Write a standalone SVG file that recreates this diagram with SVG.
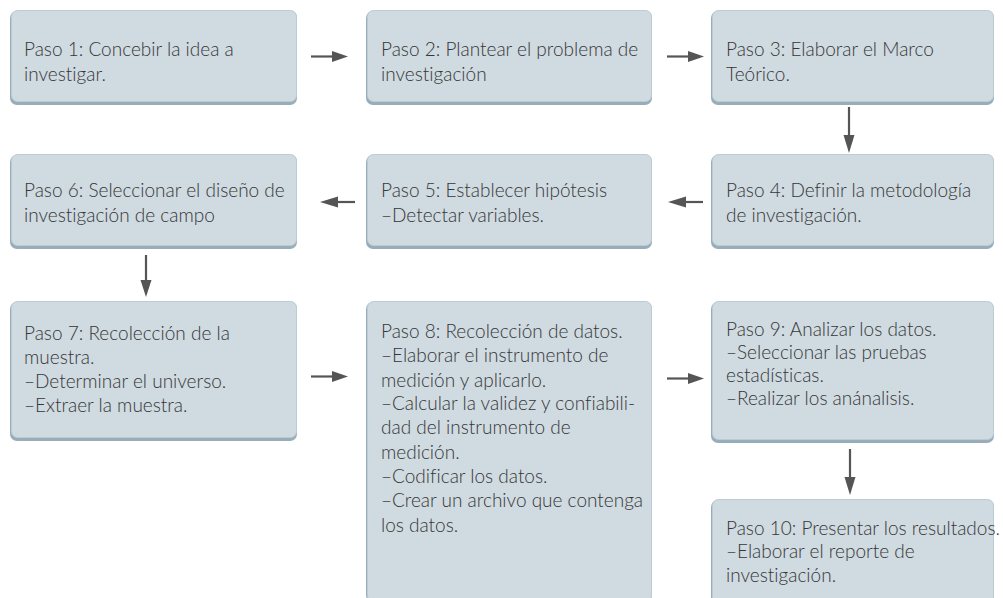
<svg xmlns="http://www.w3.org/2000/svg" width="1003" height="598" viewBox="0 0 1003 598">
<defs>
<style>
.sh{fill:#98adba}
.bx{fill:#cfdae1;stroke:#bccbd4;stroke-width:1}
.t{font-family:Lato,"Open Sans","Noto Sans",sans-serif;font-weight:300;font-size:19px;fill:#363636;font-variant-ligatures:none;font-feature-settings:"liga" 0}
.c{stroke:#555;stroke-width:2.2;fill:none}
.h{fill:#555}
</style>
</defs>
<rect width="1003" height="598" fill="#ffffff"/>
<g id="n1"><rect class="sh" x="10" y="11" width="287" height="94" rx="7"/><rect class="bx" x="11.5" y="10.5" width="285" height="91" rx="6"/>
<text class="t" x="24"><tspan x="24" y="56">Paso 1: Concebir la idea a</tspan><tspan x="24" y="81">investigar.</tspan></text></g>
<g id="n2"><rect class="sh" x="366" y="11" width="286" height="94" rx="7"/><rect class="bx" x="367.5" y="10.5" width="284" height="91" rx="6"/>
<text class="t"><tspan x="381" y="56">Paso 2: Plantear el problema de</tspan><tspan x="381" y="81">investigación</tspan></text></g>
<g id="n3"><rect class="sh" x="711" y="11" width="283" height="94" rx="7"/><rect class="bx" x="712.5" y="10.5" width="281" height="91" rx="6"/>
<text class="t"><tspan x="726" y="56">Paso 3: Elaborar el Marco</tspan><tspan x="726" y="81">Teórico.</tspan></text></g>
<g id="n4"><rect class="sh" x="711" y="155" width="283" height="94" rx="7"/><rect class="bx" x="712.5" y="154.5" width="281" height="91" rx="6"/>
<text class="t"><tspan x="726" y="197">Paso 4: Definir la metodología</tspan><tspan x="726" y="222">de investigación.</tspan></text></g>
<g id="n5"><rect class="sh" x="366" y="155" width="286" height="94" rx="7"/><rect class="bx" x="367.5" y="154.5" width="284" height="91" rx="6"/>
<text class="t"><tspan x="381" y="197">Paso 5: Establecer hipótesis</tspan><tspan x="381" y="222">–Detectar variables.</tspan></text></g>
<g id="n6"><rect class="sh" x="10" y="155" width="287" height="94" rx="7"/><rect class="bx" x="11.5" y="154.5" width="285" height="91" rx="6"/>
<text class="t"><tspan x="24" y="197">Paso 6: Seleccionar el diseño de</tspan><tspan x="24" y="222">investigación de campo</tspan></text></g>
<g id="n7"><rect class="sh" x="10" y="302" width="287" height="139" rx="7"/><rect class="bx" x="11.5" y="301.5" width="285" height="136" rx="6"/>
<text class="t"><tspan x="24" y="340">Paso 7: Recolección de la</tspan><tspan x="24" y="364">muestra.</tspan><tspan x="24" y="388">–Determinar el universo.</tspan><tspan x="24" y="412">–Extraer la muestra.</tspan></text></g>
<g id="n8"><rect class="sh" x="366" y="302" width="286" height="300" rx="7"/><rect class="bx" x="367.5" y="301.5" width="284" height="300" rx="6"/>
<text class="t"><tspan x="381" y="338">Paso 8: Recolección de datos.</tspan><tspan x="381" y="362">–Elaborar el instrumento de</tspan><tspan x="381" y="387">medición y aplicarlo.</tspan><tspan x="381" y="410">–Calcular la validez y confiabili-</tspan><tspan x="381" y="434">dad del instrumento de</tspan><tspan x="381" y="459">medición.</tspan><tspan x="381" y="483">–Codificar los datos.</tspan><tspan x="381" y="507">–Crear un archivo que contenga</tspan><tspan x="381" y="532">los datos.</tspan></text></g>
<g id="n9"><rect class="sh" x="711" y="302" width="283" height="141" rx="7"/><rect class="bx" x="712.5" y="301.5" width="281" height="138" rx="6"/>
<text class="t"><tspan x="726" y="336">Paso 9: Analizar los datos.</tspan><tspan x="726" y="359">–Seleccionar las pruebas</tspan><tspan x="726" y="382">estadísticas.</tspan><tspan x="726" y="405">–Realizar los anánalisis.</tspan></text></g>
<g id="n10"><rect class="sh" x="711" y="500" width="283" height="110" rx="7"/><rect class="bx" x="712.5" y="499.5" width="281" height="110" rx="6"/>
<text class="t"><tspan x="726" y="535">Paso 10: Presentar los resultados.</tspan><tspan x="726" y="558">–Elaborar el reporte de</tspan><tspan x="726" y="582">investigación.</tspan></text></g>
<g id="connectors">
<line class="c" x1="311" y1="56.5" x2="334" y2="56.5"/><polygon class="h" points="332,51 348,56.5 332,62"/>
<line class="c" x1="667" y1="56.5" x2="690" y2="56.5"/><polygon class="h" points="688,51 704,56.5 688,62"/>
<line class="c" x1="849" y1="107" x2="849" y2="137"/><polygon class="h" points="843.5,135 849,153 854.5,135"/>
<line class="c" x1="703" y1="202" x2="684" y2="202"/><polygon class="h" points="686,196.5 668,202 686,207.5"/>
<line class="c" x1="355" y1="202" x2="336" y2="202"/><polygon class="h" points="338,196.5 320,202 338,207.5"/>
<line class="c" x1="146" y1="255" x2="146" y2="282"/><polygon class="h" points="140.5,280 146,297 151.5,280"/>
<line class="c" x1="311" y1="376.5" x2="334" y2="376.5"/><polygon class="h" points="332,371 348,376.5 332,382"/>
<line class="c" x1="667" y1="378.5" x2="690" y2="378.5"/><polygon class="h" points="688,373 704,378.5 688,384"/>
<line class="c" x1="850" y1="449" x2="850" y2="479"/><polygon class="h" points="844.5,477 850,495 855.5,477"/>
</g>
</svg>
